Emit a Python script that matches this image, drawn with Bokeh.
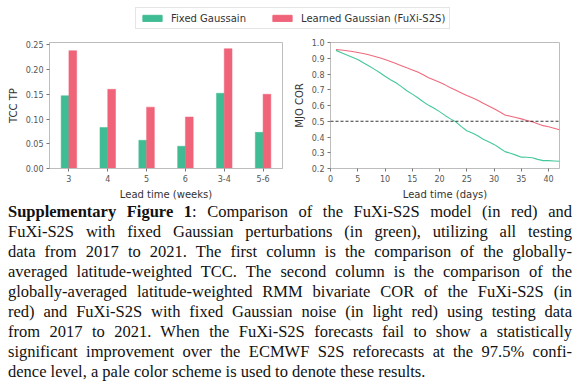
from bokeh.plotting import figure
from bokeh.models import (FixedTicker, PrintfTickFormatter, Legend, LegendItem, Span,
                          Div, FactorRange, Range1d, ColumnDataSource)
from bokeh.transform import dodge
from bokeh.layouts import column, row
from bokeh.embed import file_html
from bokeh.resources import INLINE

# ---------------- data ----------------
weeks = ["3", "4", "5", "6", "3-4", "5-6"]
tcc_fixed = [0.147, 0.083, 0.057, 0.045, 0.152, 0.073]
tcc_learned = [0.238, 0.160, 0.124, 0.104, 0.242, 0.150]

days = list(range(1, 43))
mjo_learned = [0.955, 0.952, 0.948, 0.943, 0.937, 0.930, 0.922, 0.913, 0.903, 0.892,
               0.880, 0.867, 0.853, 0.839, 0.826, 0.812, 0.795, 0.776, 0.762, 0.748,
               0.731, 0.713, 0.697, 0.680, 0.663, 0.649, 0.633, 0.614, 0.597, 0.580,
               0.560, 0.540, 0.532, 0.524, 0.515, 0.505, 0.497, 0.484, 0.472, 0.465,
               0.456, 0.446]
mjo_fixed = [0.950, 0.935, 0.920, 0.906, 0.892, 0.872, 0.852, 0.831, 0.810, 0.786,
             0.764, 0.744, 0.720, 0.694, 0.672, 0.649, 0.624, 0.601, 0.582, 0.561,
             0.537, 0.515, 0.496, 0.466, 0.440, 0.426, 0.408, 0.386, 0.370, 0.353,
             0.330, 0.307, 0.297, 0.285, 0.272, 0.271, 0.268, 0.258, 0.250, 0.250,
             0.248, 0.246]
threshold = 0.5

tcc_yticks = [0.00, 0.05, 0.10, 0.15, 0.20, 0.25]
mjo_yticks = [0.2, 0.3, 0.4, 0.5, 0.6, 0.7, 0.8, 0.9, 1.0]
mjo_xticks = [0, 5, 10, 15, 20, 25, 30, 35, 40]

legend_labels = ["Fixed Gaussain", "Learned Gaussian (FuXi-S2S)"]

caption_lines = [
    "<b>Supplementary Figure 1</b>: Comparison of the FuXi-S2S model (in red) and",
    "FuXi-S2S with fixed Gaussian perturbations (in green), utilizing all testing",
    "data from 2017 to 2021. The first column is the comparison of the globally-",
    "averaged latitude-weighted TCC. The second column is the comparison of the",
    "globally-averaged latitude-weighted RMM bivariate COR of the FuXi-S2S (in",
    "red) and FuXi-S2S with fixed Gaussian noise (in light red) using testing data",
    "from 2017 to 2021. When the FuXi-S2S forecasts fail to show a statistically",
    "significant improvement over the ECMWF S2S reforecasts at the 97.5% confi-",
    "dence level, a pale color scheme is used to denote these results.",
]

GREEN = "#40bc94"
RED = "#ef6479"
GREEN_L = "#45c79c"
RED_L = "#f06a7e"
FRAME = "#bdbdbd"


def style(p):
    p.toolbar_location = None
    p.grid.visible = False
    p.outline_line_color = FRAME
    p.outline_line_width = 1
    p.background_fill_color = "white"
    p.border_fill_color = "white"
    for ax in (p.xaxis[0], p.yaxis[0]):
        ax.axis_line_color = FRAME
        ax.major_tick_line_color = "#777777"
        ax.major_tick_out = 3
        ax.major_tick_in = 0
        ax.minor_tick_line_color = None
        ax.major_label_text_font = "DejaVu Sans"
        ax.major_label_text_font_size = "8px"
        ax.major_label_text_color = "#555555"
        ax.major_label_standoff = 3
        ax.axis_label_text_font = "DejaVu Sans"
        ax.axis_label_text_font_size = "10px"
        ax.axis_label_text_font_style = "normal"
        ax.axis_label_text_color = "#333333"
        ax.axis_label_standoff = 4


src = ColumnDataSource(dict(week=weeks, fixed=tcc_fixed, learned=tcc_learned))

# ---------------- legend strip ----------------
# same bars drawn into a y-range far above them, so only their legend glyphs show
pl = figure(width=580, height=38, output_backend="svg", toolbar_location=None,
            x_range=FactorRange(factors=weeks), y_range=Range1d(10, 11),
            min_border_left=0, min_border_right=0, min_border_top=0, min_border_bottom=0)
pl.axis.visible = False
pl.grid.visible = False
pl.outline_line_color = None
r1 = pl.vbar(x=dodge("week", -0.1, range=pl.x_range), top="fixed", width=0.2, source=src,
             fill_color=GREEN, line_color=GREEN)
r2 = pl.vbar(x=dodge("week", 0.1, range=pl.x_range), top="learned", width=0.2, source=src,
             fill_color=RED, line_color=RED)
leg = Legend(items=[LegendItem(label=legend_labels[0], renderers=[r1]),
                    LegendItem(label=legend_labels[1], renderers=[r2])],
             orientation="horizontal", location=(135, 9), margin=0, padding=4,
             spacing=24, label_standoff=7, glyph_width=24, glyph_height=8,
             label_height=12, label_text_font="DejaVu Sans",
             label_text_font_size="10px", label_text_color="#333333",
             border_line_color="#cccccc", border_line_width=1,
             background_fill_color="white", background_fill_alpha=1)
pl.add_layout(leg, "center")

# ---------------- left: TCC bars ----------------
p1 = figure(width=290, height=164, output_backend="svg", toolbar_location=None,
            x_range=FactorRange(factors=weeks, range_padding=0),
            y_range=Range1d(0, 0.2546),
            min_border_left=49, min_border_right=8, min_border_top=4, min_border_bottom=33)
p1.vbar(x=dodge("week", -0.1, range=p1.x_range), top="fixed", width=0.2, source=src,
        fill_color=GREEN, line_color=GREEN, line_width=0.5)
p1.vbar(x=dodge("week", 0.1, range=p1.x_range), top="learned", width=0.2, source=src,
        fill_color=RED, line_color=RED, line_width=0.5)
style(p1)
p1.yaxis.ticker = FixedTicker(ticks=tcc_yticks)
p1.yaxis.formatter = PrintfTickFormatter(format="%.2f")
p1.yaxis.axis_label = "TCC TP"
p1.xaxis.axis_label = "Lead time (weeks)"

# ---------------- right: MJO COR lines ----------------
p2 = figure(width=290, height=164, output_backend="svg", toolbar_location=None,
            x_range=Range1d(0, 42), y_range=Range1d(0.2, 1.0),
            min_border_left=36, min_border_right=21, min_border_top=4, min_border_bottom=33)
p2.line(days, mjo_learned, line_color=RED_L, line_width=1.1)
p2.line(days, mjo_fixed, line_color=GREEN_L, line_width=1.1)
p2.add_layout(Span(location=threshold, dimension="width", line_color="black",
                   line_dash="3 2", line_width=0.8))
style(p2)
p2.yaxis.ticker = FixedTicker(ticks=mjo_yticks)
p2.yaxis.formatter = PrintfTickFormatter(format="%.1f")
p2.xaxis.ticker = FixedTicker(ticks=mjo_xticks)
p2.yaxis.axis_label = "MJO COR"
p2.xaxis.axis_label = "Lead time (days)"

# ---------------- caption ----------------
inner = "".join(
    f'<div style="text-align:justify;text-align-last:justify;white-space:nowrap;">{l}</div>'
    for l in caption_lines[:-1]
) + f'<div style="white-space:nowrap;">{caption_lines[-1]}</div>'
html = ('<div style="font-family:\'Liberation Serif\',serif;font-size:16.5px;'
        'line-height:20px;color:#111;width:564px;margin-left:8px;">' + inner + '</div>')
cap = Div(text=html, width=580, height=181, margin=(0, 0, 0, 0))

layout = column(pl, row(p1, p2), cap)
open("out.html", "w").write(file_html(layout, INLINE))
